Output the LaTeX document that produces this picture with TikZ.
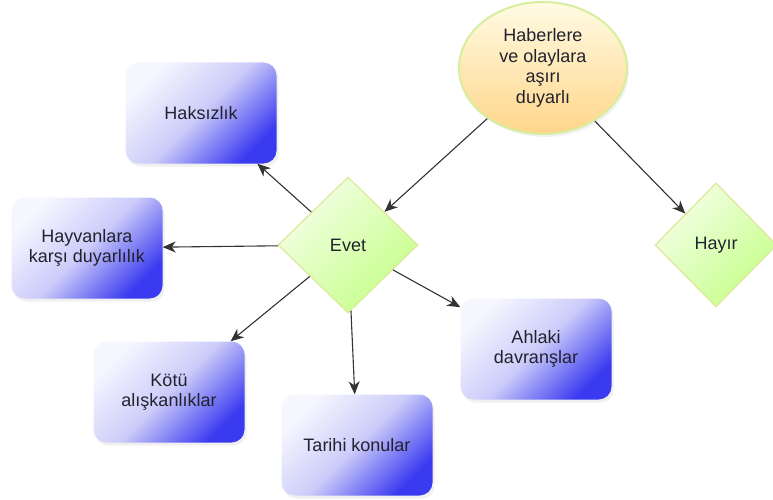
\documentclass[tikz,border=0pt]{standalone}
\usepackage{fontspec}
\setmainfont{Liberation Sans}
\usetikzlibrary{shapes,shadows,arrows.meta}

\definecolor{konuacik}{HTML}{F6F6FF}
\definecolor{konuorta}{HTML}{CCCCFA}
\definecolor{konukoyu}{HTML}{3A3AF0}
\definecolor{cevapacik}{HTML}{F4FFE6}
\definecolor{cevapkoyu}{HTML}{C6FF8A}
\definecolor{cevapcizgi}{HTML}{DDE89A}
\definecolor{soruacik}{HTML}{FFFBE4}
\definecolor{sorukoyu}{HTML}{FFD68A}
\definecolor{sorucizgi}{HTML}{D6EE9E}
\definecolor{yazi}{HTML}{22222E}

\tikzset{
    konu/.style={rectangle,rounded corners=13pt,minimum width=151pt,minimum height=101pt,
        inner sep=0pt,align=center,text=yazi,
        top color=konuacik,bottom color=konukoyu,middle color=konuorta,shading angle=45,
        drop shadow={shadow xshift=2pt,shadow yshift=-3pt,opacity=0.12}},
    cevap/.style={diamond,draw=cevapcizgi,line width=1.2pt,minimum width=140pt,minimum height=136pt,
        inner sep=0pt,text=yazi,
        top color=cevapacik,bottom color=cevapkoyu,shading angle=45},
    soru/.style={ellipse,draw=sorucizgi,line width=2pt,minimum width=168pt,minimum height=132pt,
        inner sep=0pt,align=center,text=yazi,
        top color=soruacik,bottom color=sorukoyu,
        drop shadow={shadow xshift=2pt,shadow yshift=-3pt,opacity=0.10}},
    ok/.style={->,line width=1.1pt,draw=black!80}
}

\begin{document}
\begin{tikzpicture}[x=1pt,y=-1pt,font=\fontsize{18}{20.5}\selectfont,
    >={Stealth[length=13pt,width=11pt,inset=4pt]}]
    \useasboundingbox (0,0) rectangle (773,500);
    %question node
    \node[soru] (haber) at (543,68) {Haberlere\\ve olaylara\\aşırı\\duyarlı};
    %answer nodes
    \node[cevap] (evet) at (348,245) {Evet};
    \node[cevap,minimum width=122pt,minimum height=124pt] (hayir) at (716,245) {Hayır};
    %topic boxes
    \node[konu] (haksizlik) at (201,113) {Haksızlık};
    \node[konu] (hayvan) at (87,248) {Hayvanlara\\karşı duyarlılık};
    \node[konu] (kotu) at (169,392) {Kötü\\alışkanlıklar};
    \node[konu] (tarihi) at (357,445) {Tarihi konular};
    \node[konu] (ahlak) at (536,349) {Ahlaki\\davranşlar};
    \foreach \k in {haksizlik,hayvan,kotu,tarihi,ahlak} {
        \draw[ok] (evet) -- (\k); % Arrows from Evet to each topic
    }
    \draw[ok] (haber) -- (evet);
    \draw[ok] (haber) -- (hayir);
\end{tikzpicture}
\end{document}
